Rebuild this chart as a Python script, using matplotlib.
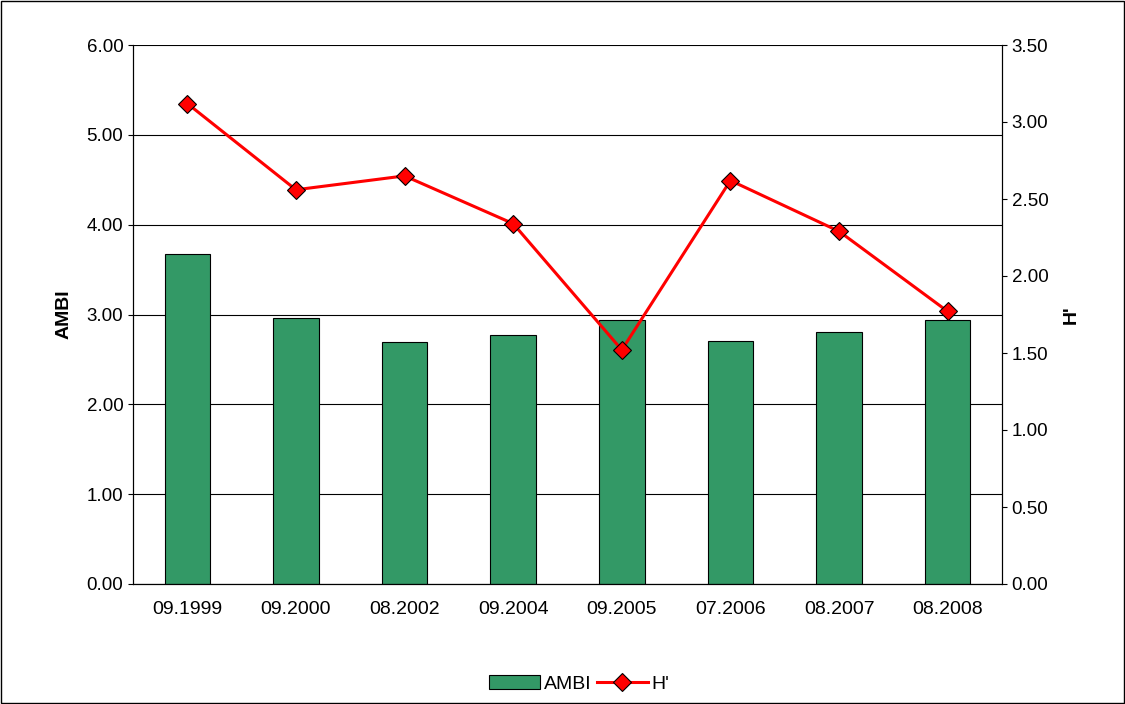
import matplotlib.pyplot as plt
import numpy as np

dates = ['09.1999', '09.2000', '08.2002', '09.2004', '09.2005', '07.2006', '08.2007', '08.2008']
ambi = [3.67, 2.96, 2.69, 2.77, 2.94, 2.71, 2.81, 2.94]
h_prime = [3.12, 2.56, 2.65, 2.34, 1.52, 2.62, 2.29, 1.77]

plt.rcParams['font.family'] = ['Liberation Sans', 'DejaVu Sans']
fig = plt.figure(figsize=(11.25, 7.04), dpi=100)
fig.patches.append(plt.Rectangle((0.001, 0.001), 0.998, 0.997, transform=fig.transFigure,
                                 fill=False, edgecolor='black', linewidth=1))
ax = fig.add_axes([133 / 1125, 1 - 584 / 704, (1002 - 133) / 1125, (584 - 45) / 704])
x = np.arange(len(dates))
bars = ax.bar(x, ambi, width=0.42, color='#339966', edgecolor='black', linewidth=0.8, label='AMBI', zorder=2)
ax.set_ylim(0, 6)
ax.set_xlim(-0.5, len(dates) - 0.5)
ax.set_yticks(np.arange(0, 6.01, 1))
ax.set_yticklabels([f'{v:.2f}' for v in np.arange(0, 6.01, 1)])
ax.set_xticks(x)
ax.set_xticklabels(dates)
ax.yaxis.grid(True, color='black', linewidth=0.8, zorder=0)
ax.tick_params(labelsize=13.5, direction='out')
ax.tick_params(axis='x', length=0, pad=12, labelsize=14)
ax.set_ylabel('AMBI', fontsize=14, fontweight='bold', labelpad=10)
for s in ax.spines.values():
    s.set_color('black')
ax.spines['top'].set_visible(False)

ax2 = ax.twinx()
line, = ax2.plot(x, h_prime, color='red', linewidth=2.2, marker='D', markersize=9,
                 markerfacecolor='red', markeredgecolor='black', markeredgewidth=0.8, label="H'")
ax2.set_ylim(0, 3.5)
ax2.set_yticks(np.arange(0, 3.51, 0.5))
ax2.set_yticklabels([f'{v:.2f}' for v in np.arange(0, 3.51, 0.5)])
ax2.tick_params(labelsize=13.5, direction='out')
ax2.set_ylabel("H'", fontsize=14, fontweight='bold', rotation=90, labelpad=10)
ax2.spines['top'].set_visible(False)

fig.legend([bars, line], ['AMBI', "H'"], loc='center', bbox_to_anchor=(0.515, 1 - 684 / 704),
           ncol=2, frameon=False, fontsize=14, handlelength=2.6, handletextpad=0.2,
           columnspacing=0.3)
fig.savefig('out.png', dpi=100)
